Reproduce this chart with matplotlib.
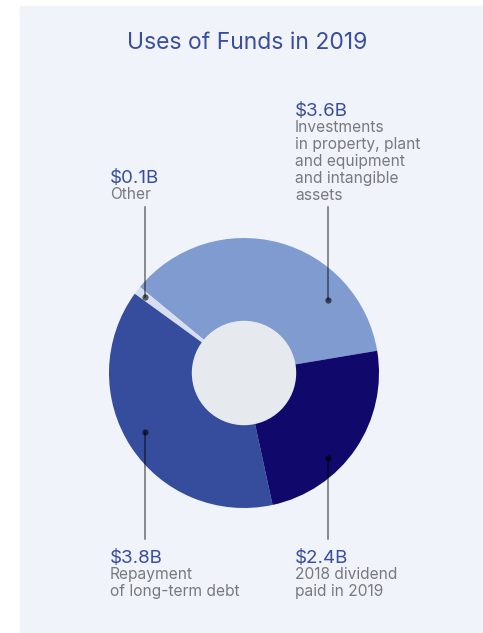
import matplotlib.pyplot as plt
from matplotlib.patches import Rectangle, Circle

# Uses of funds, billions of dollars (drawn counter-clockwise from the right)
values = [3.6, 0.1, 3.8, 2.4]
amounts = ["$3.6B", "$0.1B", "$3.8B", "$2.4B"]
descriptions = [
    "Investments\nin property, plant\nand equipment\nand intangible\nassets",
    "Other",
    "Repayment\nof long-term debt",
    "2018 dividend\npaid in 2019",
]
colors = ["#7f9bd0", "#d7def0", "#364c9c", "#10086a"]

W, H = 483, 633
fig = plt.figure(figsize=(W / 100, H / 100), dpi=100)
fig.patch.set_facecolor("white")
ax = fig.add_axes([0, 0, 1, 1])

# light panel behind everything
ax.add_patch(Rectangle((20, 0), W - 20, H - 6, color="#f0f4fa", zorder=0))

cx, cy, r_out, r_in = 244, 260, 135, 51.5
ax.pie(values, colors=colors, startangle=9.5, counterclock=True,
       center=(cx, cy), radius=r_out, frame=True,
       wedgeprops=dict(linewidth=0, zorder=1))
ax.add_patch(Circle((cx, cy), r_in, color="#e6eaee", zorder=2))

ax.set_xlim(0, W)
ax.set_ylim(0, H)
ax.set_aspect("equal")
ax.axis("off")

font = ["Inter", "DejaVu Sans"]
ax.text(247, H - 43, "Uses of Funds in 2019", ha="center", va="center",
        fontsize=16.5, color="#3a4d9f", family=font)

# leader lines: dot x, dot y, end of line y
leaders = [
    (328, H - 300, H - 207),   # 3.6
    (145, H - 297, H - 207),   # 0.1
    (145, H - 432, H - 539),   # 3.8
    (328, H - 458, H - 539),   # 2.4
]
# label anchors: x and baseline of the amount
labels_pos = [(295, H - 116), (110, H - 183), (110, H - 563), (295, H - 563)]

for (lx, dy, ey), (tx, ty), amt, desc in zip(leaders, labels_pos,
                                           amounts, descriptions):
    ax.plot([lx, lx], [dy, ey], color="black", alpha=0.55, lw=1.1, zorder=3)
    ax.plot(lx, dy, "o", color="black", alpha=0.6, ms=4.5, mew=0, zorder=4)
    ax.text(tx, ty, amt, ha="left", va="baseline", fontsize=13.5,
            color="#3a4d9f", family=font)
    ax.text(tx, ty - 4, desc, ha="left", va="top", fontsize=11.2,
            color="#77797d", family=font, linespacing=1.16)

fig.savefig("out.png", dpi=100, facecolor=fig.get_facecolor())
